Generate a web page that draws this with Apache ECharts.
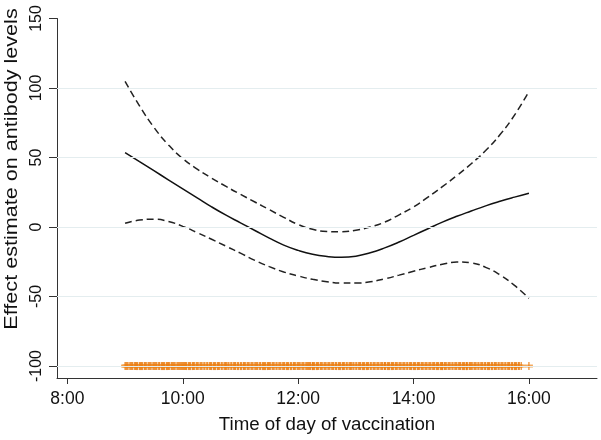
<!DOCTYPE html>
<html>
<head>
<meta charset="utf-8">
<script src="https://cdn.jsdelivr.net/npm/echarts@6/dist/echarts.min.js"></script>
<style>html,body{margin:0;padding:0;background:#fff}#c{width:601px;height:440px}</style>
</head>
<body>
<div id="c"></div>
<script>
// Time of day (decimal hours) at which the curves are read
var hours = [9.0, 9.25, 9.5, 9.75, 10.0, 10.25, 10.5, 10.75, 11.0, 11.25, 11.5, 11.75, 12.0, 12.25, 12.5, 12.75, 13.0, 13.25, 13.5, 13.75, 14.0, 14.25, 14.5, 14.75, 15.0, 15.25, 15.5, 15.75, 16.0];
var estimate = [53.6, 47, 40.5, 34, 27.5, 21, 14.5, 8.5, 3, -2.5, -8, -13, -16.8, -19.6, -21.2, -21.8, -21, -18.5, -15, -10.8, -6, -1.2, 3.5, 7.7, 11.5, 15.2, 18.5, 21.5, 24.3];
var upperCI = [104.7, 87.2, 71.7, 59.2, 49.2, 41.7, 35.2, 29.2, 23.5, 18, 12.5, 7, 1.8, -1.6, -3.2, -3.4, -2.3, 0, 3.5, 8.8, 14.5, 21.5, 29, 37, 45.5, 55, 66.5, 80.5, 97.5];
var lowerCI = [2.7, 5, 5.6, 4, 0.5, -4, -8.8, -13.8, -18.8, -24, -28.5, -32.3, -35.2, -37.6, -39.3, -40.3, -40.3, -39.4, -37.3, -34.6, -31.8, -29.2, -26.8, -25.2, -25.8, -29, -34.5, -42, -51.3];

// Observed vaccination times (minutes past each hour) for the rug at y = -100
var rug09 = [0,1,2,3,5,6,7,8,10,11,12,13,15,16,17,18,20,21,22,24,25,26,27,29,30,31,32,33,35,36,38,39,40,41,43,44,45,46,48,49,50,51,52,54,55,56,57,58,59];
var rug10 = [0,1,2,3,4,6,7,8,10,11,12,14,15,16,18,19,20,22,23,25,26,28,29,30,32,33,34,36,37,38,40,41,43,44,45,45,47,48,50,51,53,54,55,57,58];
var rug11 = [0,1,3,4,5,7,8,9,11,12,13,15,16,17,18,20,21,23,24,25,26,28,29,30,31,33,34,35,37,38,40,41,42,44,45,46,48,49,50,52,53,55,56,57,59];
var rug12 = [0,1,2,4,5,6,8,9,10,11,12,13,15,15,16,17,19,20,21,23,24,25,27,28,29,31,32,33,35,36,37,39,40,42,43,44,46,47,48,50,51,53,54,55,55,57,58];
var rug13 = [0,1,3,4,5,7,8,9,11,12,13,15,16,18,19,20,22,23,24,26,27,28,30,30,31,33,34,35,37,38,39,41,42,43,45,46,47,49,50,51,53,54,56,57,58];
var rug14 = [0,1,2,4,5,6,8,9,10,12,13,14,16,17,18,20,21,22,24,25,26,28,29,30,30,32,33,34,36,37,38,40,41,43,44,45,47,48,49,51,52,53,55,55,56,58,59];
var rug15 = [0,1,3,4,5,7,8,10,11,12,14,15,17,18,19,21,22,24,25,26,28,29,31,32,33,35,36,38,39,40,42,43,45,46,47,49,50,52];
var rug16 = [0];
var rugLevel = -100;

// Axis tick labels
var xTicks = [8, 10, 12, 14, 16];
var yTicks = [-100, -50, 0, 50, 100, 150];
var gridValues = [-100, -50, 0, 50, 100];

function pairs(ys) { return hours.map(function (h, i) { return [h, ys[i]]; }); }
var rugPoints = [];
[[9, rug09], [10, rug10], [11, rug11], [12, rug12], [13, rug13], [14, rug14], [15, rug15], [16, rug16]].forEach(function (g) {
  g[1].forEach(function (m) { rugPoints.push([g[0] + m / 60, rugLevel]); });
});

var chart = echarts.init(document.getElementById('c'));
var font = 'Liberation Sans, Arial, sans-serif';
chart.setOption({
  animation: false,
  backgroundColor: '#ffffff',
  grid: { left: 57, right: 4, top: 18.5, bottom: 62, containLabel: false },
  xAxis: {
    type: 'value', min: 7.82, max: 17.18,
    axisLine: { onZero: false, lineStyle: { color: '#333', width: 1 } },
    axisTick: { show: true, length: 6, customValues: xTicks, lineStyle: { color: '#333' } },
    axisLabel: { customValues: xTicks, formatter: function (v) { return Math.round(v) + ':00'; },
      color: '#111', fontFamily: font, fontSize: 17.5, margin: 12 },
    splitLine: { show: false },
    name: 'Time of day of vaccination', nameLocation: 'middle', nameGap: 37,
    nameTextStyle: { color: '#111', fontFamily: font, fontSize: 18.7 }
  },
  yAxis: {
    type: 'value', min: -108.6, max: 150,
    axisLine: { show: true, onZero: false, lineStyle: { color: '#333', width: 1 } },
    axisTick: { show: true, length: 8, customValues: yTicks, lineStyle: { color: '#333' } },
    axisLabel: { customValues: yTicks, rotate: 90, color: '#111', fontFamily: font, fontSize: 16, margin: 12 },
    splitLine: { show: false }
  },
  graphic: [{
    type: 'text', x: 12, y: 169, rotation: Math.PI / 2, scaleX: 1.2,
    style: { text: 'Effect estimate on antibody levels', fill: '#111', font: '18px ' + font,
      textAlign: 'center', textVerticalAlign: 'middle' }
  }],
  series: [
    {
      type: 'line', data: [], silent: true,
      markLine: { silent: true, symbol: 'none', label: { show: false },
        lineStyle: { color: '#e4edef', width: 1, type: 'solid' },
        data: gridValues.map(function (v) { return { yAxis: v }; }) }
    },
    {
      type: 'scatter', data: rugPoints, silent: true, symbol: 'rect', symbolSize: [8, 3],
      itemStyle: { color: '#f3a04a', opacity: 0.9 }
    },
    {
      type: 'scatter', data: rugPoints, silent: true, symbol: 'rect', symbolSize: [1.3, 8],
      itemStyle: { color: '#ea7d12', opacity: 0.85 }
    },
    { type: 'line', data: pairs(upperCI), smooth: true, showSymbol: false, silent: true,
      lineStyle: { color: '#222', width: 1.5, type: [7, 4] } },
    { type: 'line', data: pairs(lowerCI), smooth: true, showSymbol: false, silent: true,
      lineStyle: { color: '#222', width: 1.5, type: [7, 4] } },
    { type: 'line', data: pairs(estimate), smooth: true, showSymbol: false, silent: true,
      lineStyle: { color: '#111', width: 1.5, type: 'solid' } }
  ]
});
</script>
</body>
</html>
